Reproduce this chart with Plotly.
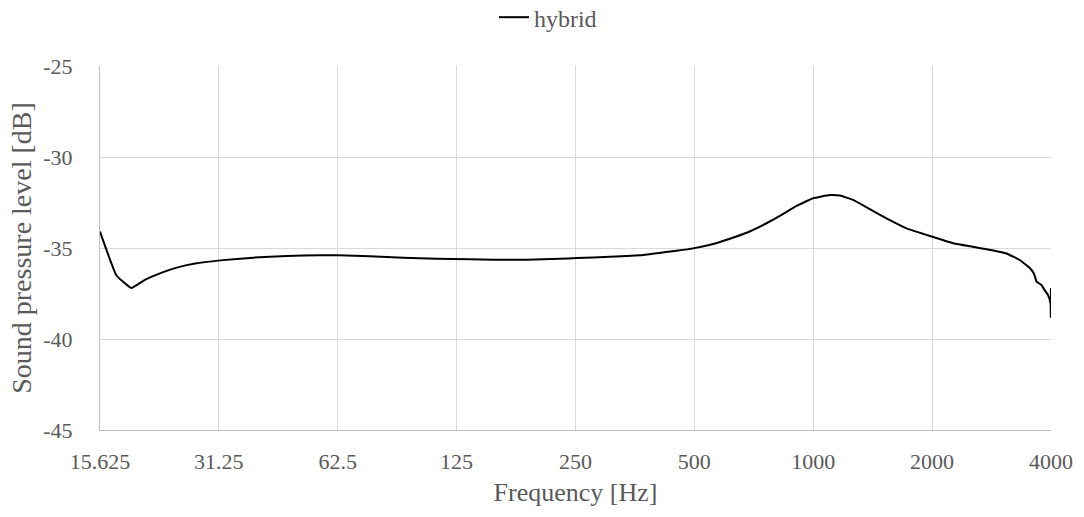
import plotly.graph_objects as go
import math

# Frequency [Hz] and sound pressure level [dB]
freq_hz = [15.625, 17.1875, 18.75, 20.3, 22.4, 24.7, 27.2, 31.5, 38.2, 46.4, 56.3, 62.7,
           75.4, 91.6, 111.2, 135.1, 154.8, 188, 228.3, 251.6, 305.5, 371, 450.6, 496.5,
           558, 615, 677.8, 761.6, 823, 907, 999, 1101.6, 1168, 1262, 1391, 1533, 1723,
           1861, 1974, 2261, 2746, 3085, 3334, 3535, 3620, 3640, 3677, 3784, 3850, 3934,
           3985, 3993.75, 3995.3, 3996.9, 3998.4, 4000]
spl_db = [-34.1, -36.5, -37.2, -36.75, -36.35, -36.05, -35.85, -35.68, -35.53, -35.44,
          -35.40, -35.40, -35.46, -35.53, -35.59, -35.62, -35.65, -35.64, -35.59, -35.55,
          -35.48, -35.38, -35.15, -35.02, -34.78, -34.49, -34.16, -33.64, -33.24, -32.69,
          -32.27, -32.09, -32.12, -32.36, -32.87, -33.37, -33.92, -34.16, -34.34, -34.74,
          -35.07, -35.3, -35.66, -36.1, -36.4, -36.55, -36.85, -37.03, -37.3, -37.6,
          -38.0, -38.2, -38.8, -37.3, -38.5, -37.2]

x_ticks = [15.625, 31.25, 62.5, 125, 250, 500, 1000, 2000, 4000]
x_tick_labels = ["15.625", "31.25", "62.5", "125", "250", "500", "1000", "2000", "4000"]
y_ticks = [-45, -40, -35, -30, -25]
y_tick_labels = ["-45", "-40", "-35", "-30", "-25"]

font_family = "Liberation Serif"
text_color = "#595959"

fig = go.Figure()
fig.add_trace(go.Scatter(
    x=freq_hz, y=spl_db, mode="lines", name="hybrid",
    line=dict(color="black", width=2, shape="spline", smoothing=0.3),
))

fig.update_layout(
    width=1084, height=517,
    margin=dict(l=100, r=33, t=66, b=87),
    paper_bgcolor="white", plot_bgcolor="white",
    font=dict(family=font_family, size=21, color=text_color),
    showlegend=True,
    legend=dict(orientation="h", xref="container", yref="container",
                x=0.5055, xanchor="center", y=0.966, yanchor="middle",
                font=dict(family=font_family, size=24, color=text_color)),
    xaxis=dict(
        type="log",
        range=[math.log10(15.625), math.log10(4000)],
        tickvals=x_ticks, ticktext=x_tick_labels,
        showgrid=True, gridcolor="#d9d9d9", gridwidth=1,
        showline=True, linecolor="#bfbfbf", linewidth=1,
        ticks="", ticklen=0, ticklabelstandoff=12,
        tickfont=dict(family=font_family, size=22, color=text_color),
        title=dict(text="Frequency [Hz]", font=dict(family=font_family, size=26, color=text_color), standoff=9),
        zeroline=False, automargin=False,
    ),
    yaxis=dict(
        range=[-45, -25],
        tickvals=y_ticks, ticktext=y_tick_labels,
        showgrid=True, gridcolor="#d9d9d9", gridwidth=1,
        showline=True, linecolor="#bfbfbf", linewidth=1,
        ticks="", ticklen=0, ticklabelstandoff=22,
        tickfont=dict(family=font_family, size=22, color=text_color),
        title=dict(text="Sound pressure level [dB]", font=dict(family=font_family, size=28, color=text_color), standoff=3),
        zeroline=False, automargin=False,
    ),
)

fig.write_html("out.html")
